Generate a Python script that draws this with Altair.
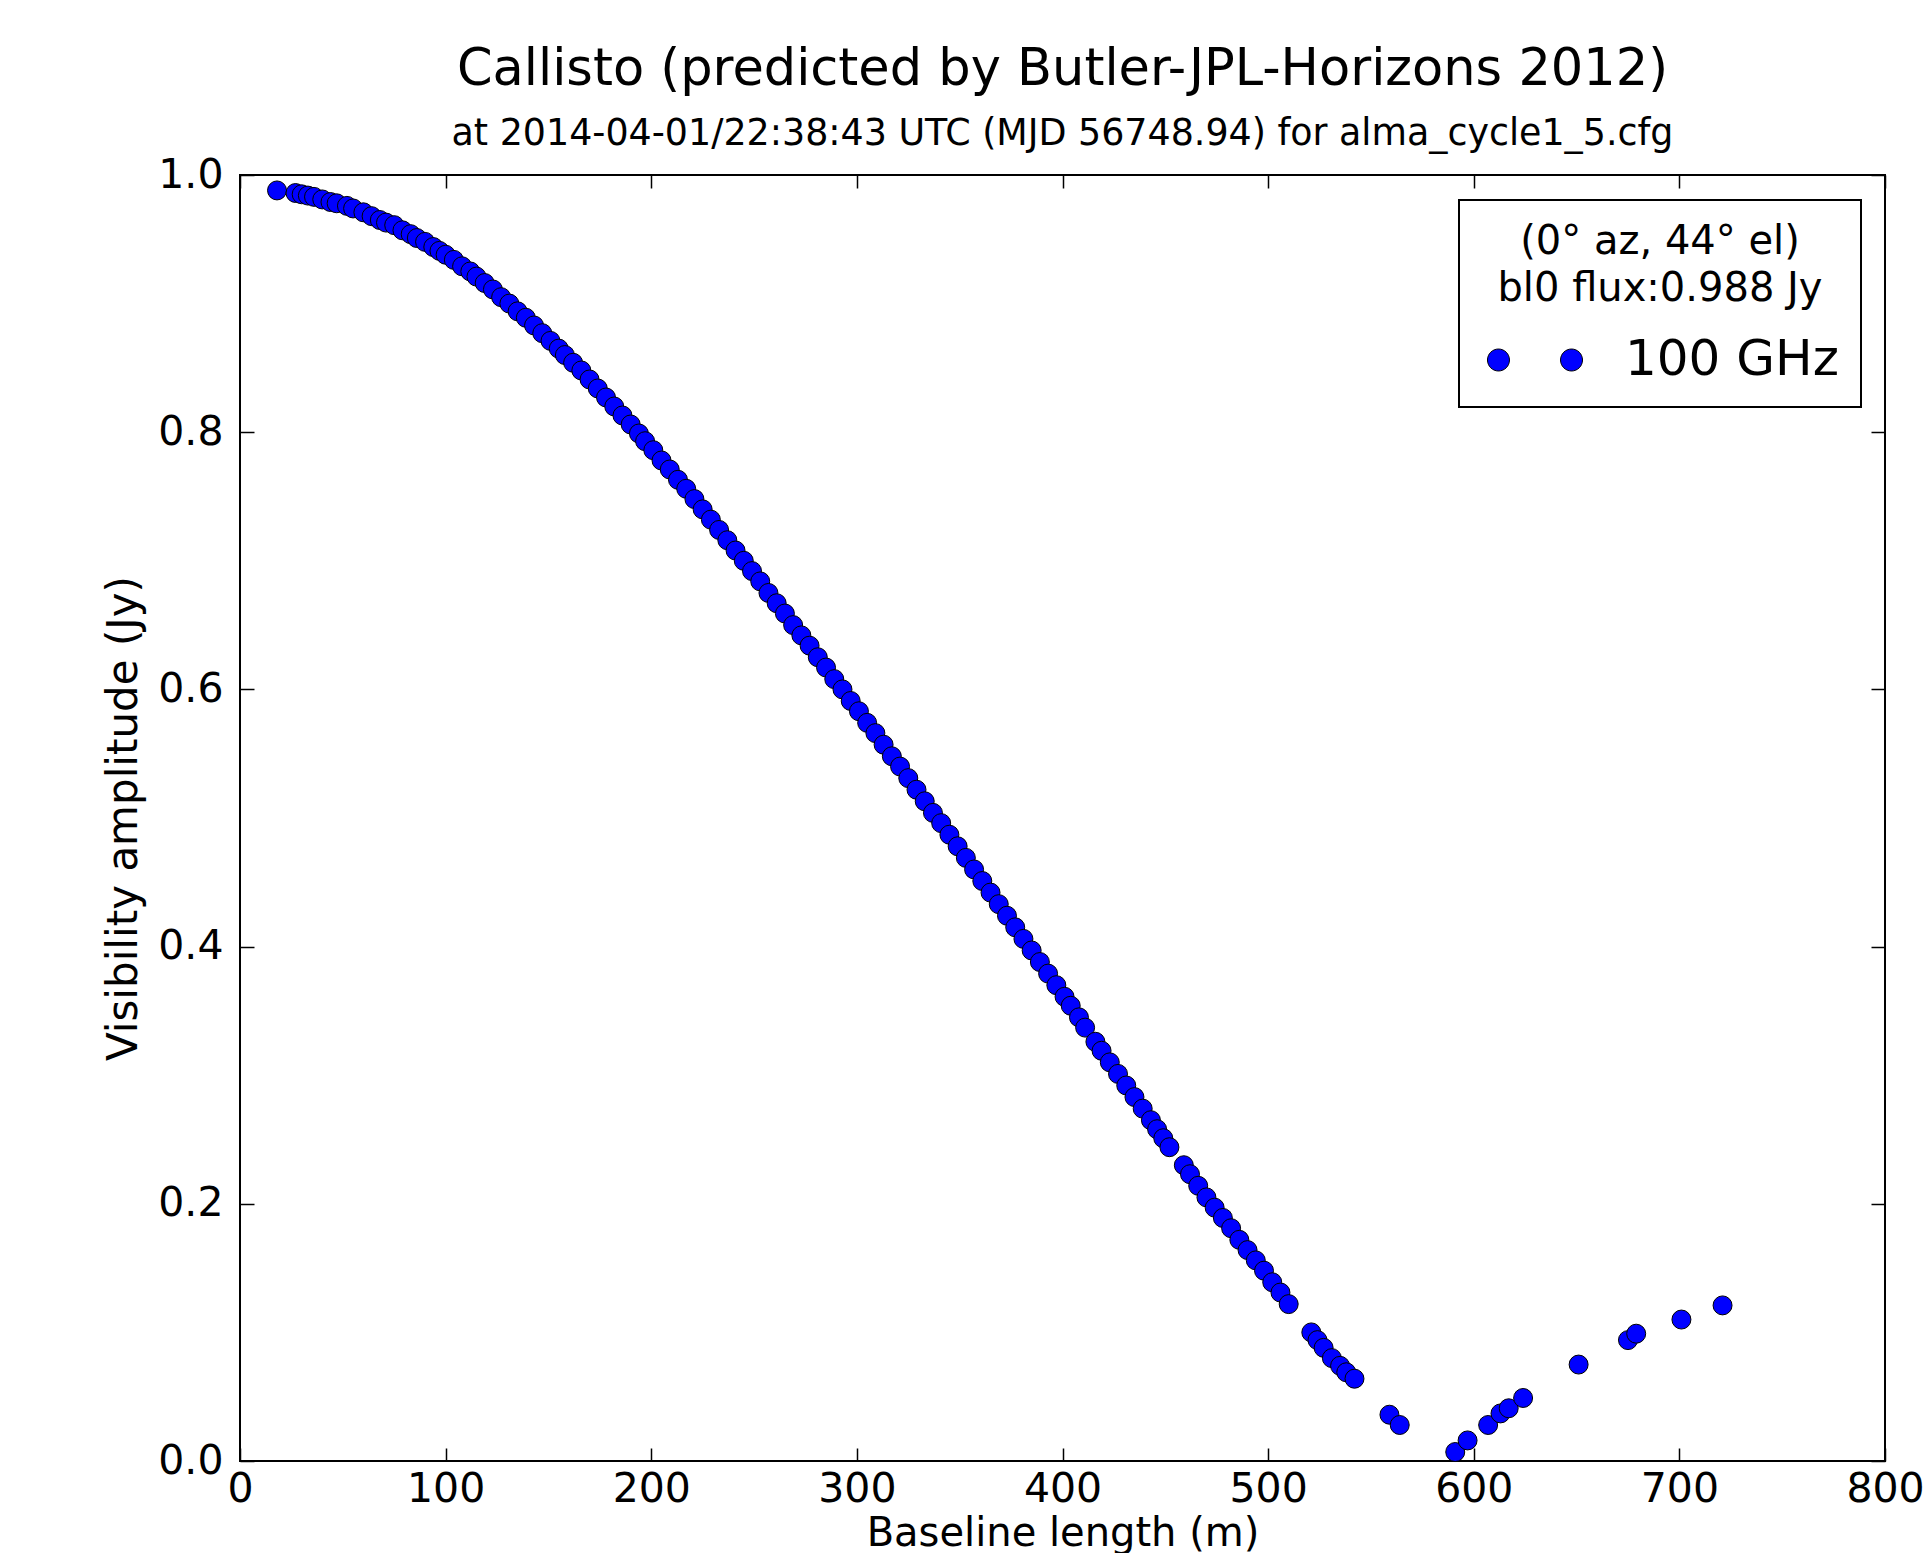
import altair as alt
import pandas as pd

# ---- data ----
baseline_m = [
    18, 27, 30, 33, 36, 40, 44, 47, 52, 55, 60, 64, 68, 71, 75, 79, 83, 86, 90, 94, 97, 100,
    104, 108, 112, 115, 119, 123, 127, 131, 135, 139, 143, 147, 151, 155, 158, 162, 166, 170,
    174, 178, 182, 186, 190, 194, 197, 201,
    205, 209, 213, 217, 221, 225, 229, 233, 237, 241, 245, 249, 253, 257, 261, 265, 269, 273,
    277, 281, 285, 289, 293, 297, 301,
    305, 309, 313, 317, 321, 325, 329, 333, 337, 341, 345, 349, 353, 357, 361, 365, 369, 373,
    377, 381, 385, 389, 393, 397, 401,
    404, 408, 411, 416, 419, 423, 427, 431, 435, 439, 443, 446, 449, 452,
    459, 462, 466, 470, 474, 478, 482, 486, 490, 494, 498, 502, 506, 510,
    521, 524, 527, 531, 535, 538, 542,
    559, 564,
    591, 597,
    607, 613, 617, 624,
    651,
    675, 679,
    701,
    721,
]
amp_jy = [
    0.988, 0.986, 0.985, 0.984, 0.983, 0.981, 0.979, 0.978, 0.976, 0.974, 0.971, 0.968, 0.965,
    0.963, 0.961, 0.957, 0.954, 0.951, 0.948, 0.944, 0.941, 0.938,
    0.934, 0.929, 0.925, 0.921, 0.916, 0.911, 0.905, 0.900, 0.894, 0.889, 0.883, 0.877, 0.871,
    0.865, 0.860, 0.854, 0.848, 0.841, 0.834, 0.827, 0.820, 0.813, 0.806, 0.799, 0.793, 0.786,
    0.778, 0.771, 0.763, 0.756, 0.748, 0.740, 0.732, 0.724, 0.716, 0.708, 0.700, 0.692, 0.684,
    0.675, 0.667, 0.659, 0.650, 0.642, 0.634, 0.625, 0.617, 0.608, 0.600, 0.591, 0.583,
    0.574, 0.566, 0.557, 0.548, 0.540, 0.531, 0.522, 0.513, 0.504, 0.496, 0.487, 0.478, 0.469,
    0.460, 0.451, 0.442, 0.433, 0.424, 0.415, 0.406, 0.397, 0.388, 0.379, 0.370, 0.361,
    0.354, 0.345, 0.337, 0.326, 0.319, 0.310, 0.301, 0.292, 0.283, 0.274, 0.265, 0.258, 0.251,
    0.244,
    0.230, 0.223, 0.214, 0.205, 0.197, 0.189, 0.181, 0.172, 0.164, 0.156, 0.148, 0.139, 0.131,
    0.122,
    0.100, 0.094, 0.088, 0.080, 0.074, 0.069, 0.064,
    0.036, 0.028,
    0.007, 0.016,
    0.028, 0.037, 0.041, 0.049,
    0.075,
    0.094, 0.099,
    0.110,
    0.121,
]
band = "100 GHz"
x_ticks = [0, 100, 200, 300, 400, 500, 600, 700, 800]
y_ticks = [0.0, 0.2, 0.4, 0.6, 0.8, 1.0]
legend_title = ["(0°  az, 44°  el)", " bl0 flux:0.988 Jy"]
title_text = "Callisto (predicted by Butler-JPL-Horizons 2012)"
subtitle_text = "at 2014-04-01/22:38:43 UTC (MJD 56748.94) for alma_cycle1_5.cfg"

df = pd.DataFrame({"baseline": baseline_m, "amp": amp_jy, "band": [band] * len(baseline_m)})

W, H = 1645, 1286
FONT = "DejaVu Sans"

xscale = alt.Scale(domain=[0, 800], nice=False, zero=False)
yscale = alt.Scale(domain=[0, 1], nice=False, zero=False)

two_dots = ("M-4.32,0A1,1,0,1,1,-2.32,0A1,1,0,1,1,-4.32,0Z"
            "M2.32,0A1,1,0,1,1,4.32,0A1,1,0,1,1,2.32,0Z")

points = alt.Chart(df).mark_point(
    filled=True, size=360, stroke="black", strokeWidth=1, opacity=1
).encode(
    x=alt.X("baseline:Q", scale=xscale, axis=alt.Axis(
        orient="bottom", values=x_ticks, format="d", ticks=False, domain=False, grid=False,
        labelFontSize=41, labelFont=FONT, labelColor="black", labelPadding=8,
        labelFlush=False, labelOverlap=False,
        title="Baseline length (m)", titleFontSize=40, titleFont=FONT,
        titleFontWeight="normal", titleColor="black",
        titleBaseline="alphabetic", titleY=84)),
    y=alt.Y("amp:Q", scale=yscale, axis=alt.Axis(
        orient="left", values=y_ticks, format=".1f", ticks=False, domain=False, grid=False,
        labelFontSize=41, labelFont=FONT, labelColor="black", labelPadding=17,
        labelFlush=False, labelOverlap=False,
        title="Visibility amplitude (Jy)", titleFontSize=42, titleFont=FONT,
        titleFontWeight="normal", titleColor="black", titlePadding=12)),
    color=alt.Color("band:N", scale=alt.Scale(domain=[band], range=["#0000ff"]),
                    legend=alt.Legend(
                        title=legend_title, orient="none", legendX=1219, legendY=25,
                        direction="vertical", padding=22, strokeColor="black",
                        fillColor="white", cornerRadius=0,
                        titleFontSize=40, titleFont=FONT, titleFontWeight="normal",
                        titleColor="black", titleAlign="center", titleAnchor="middle",
                        titleLineHeight=47, titlePadding=26, titleLimit=600,
                        labelFontSize=50, labelFont=FONT, labelColor="black",
                        labelLimit=600, labelOffset=65, symbolType=two_dots,
                        symbolSize=484, symbolOffset=29, symbolStrokeColor="black",
                        symbolStrokeWidth=1, symbolOpacity=1)),
)


def tick_layer(xorient, yorient):
    return alt.Chart(df).mark_point(opacity=0).encode(
        x=alt.X("baseline:Q", scale=xscale, axis=alt.Axis(
            orient=xorient, offset=-H, values=x_ticks, labels=False, domain=False,
            grid=False, ticks=True, tickSize=13, tickColor="black", tickWidth=1.5,
            title=None)),
        y=alt.Y("amp:Q", scale=yscale, axis=alt.Axis(
            orient=yorient, offset=-W, values=y_ticks, labels=False, domain=False,
            grid=False, ticks=True, tickSize=14, tickColor="black", tickWidth=1.5,
            title=None)),
    )


chart = alt.layer(
    tick_layer("top", "right"),
    tick_layer("bottom", "left"),
    points,
).resolve_axis(x="independent", y="independent").properties(
    width=W, height=H, autosize="none",
    padding={"left": 232, "top": 167, "right": 39, "bottom": 92},
    title=alt.TitleParams(
        text=title_text, subtitle=subtitle_text, fontSize=51, subtitleFontSize=36.4,
        font=FONT, subtitleFont=FONT, fontWeight="normal", subtitleFontWeight="normal",
        color="black", subtitleColor="black", anchor="middle", frame="group",
        offset=1, subtitlePadding=20),
).configure_view(stroke="black", strokeWidth=2).configure_legend(strokeWidth=2)

chart.save("out.html", embed_options={"renderer": "svg", "actions": False})
